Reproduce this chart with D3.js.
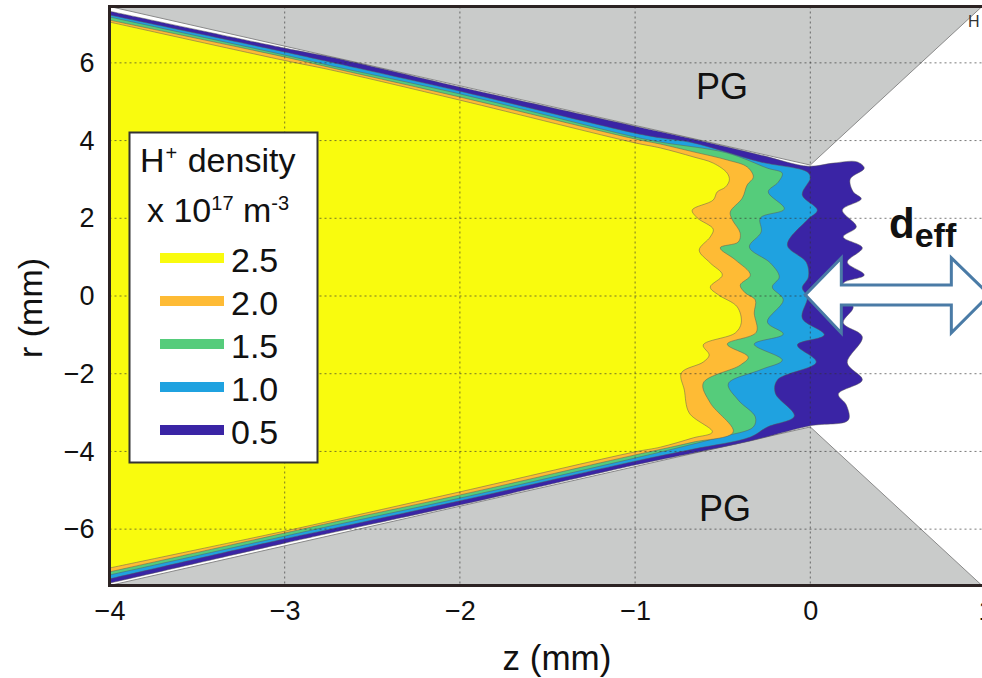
<!DOCTYPE html>
<html>
<head>
<meta charset="utf-8">
<script src="https://cdnjs.cloudflare.com/ajax/libs/d3/7.8.5/d3.min.js"></script>
<style>
  html, body { margin: 0; padding: 0; background: white; overflow: hidden; }
  text { font-family: "Liberation Sans", Arial, sans-serif; fill: #111; }
</style>
</head>
<body>
<div id="graph"></div>
<script>
// Contours are [z, r] in mm, going from the upper
// left wall round the front and back along the lower wall.
var contour05 = [[-4,7.33],[-3,6.38],[-2.74,6.15],[-2,5.38],[-1,4.37],[-.668,4.04],[-.285,3.63],[-.011,3.34],
  [.131,3.42],[.268,3.45],[.308,3.29],[.228,3.01],[.245,2.68],[.291,2.50],[.183,2.21],[.263,1.78],[.188,1.52],
  [.297,1.24],[.211,.87],[.308,.54],[.188,.33],[.183,.03],[.245,-.28],[.188,-.69],[.297,-1.05],[.211,-1.72],
  [.297,-2.16],[.160,-2.52],[.205,-2.80],[.217,-3.19],[0,-3.34],[-.342,-3.73],[-.668,-4.04],[-1,-4.35],
  [-2,-5.38],[-2.74,-6.10],[-3,-6.36],[-4,-7.39]];
var contour10 = [[-4,7.23],[-3,6.28],[-2.74,6.02],[-2,5.27],[-1,4.19],[-.856,4.07],[-.668,3.94],[-.285,3.45],
  [-.017,3.19],[0,3.04],[-.046,2.60],[.040,2.21],[-.017,1.96],[-.131,1.31],[-.023,.87],[-.011,.49],[-.046,.21],
  [-.017,-.03],[-.046,-.57],[.080,-1.00],[-.074,-1.26],[.034,-1.70],[-.188,-2.16],[-.200,-2.50],[-.091,-3.09],
  [-.245,-3.37],[-.342,-3.63],[-.668,-3.94],[-1,-4.25],[-2,-5.27],[-2.74,-6.00],[-3,-6.25],[-4,-7.28]];
var contour15 = [[-4,7.18],[-3,6.20],[-2.74,5.93],[-2,5.20],[-1,4.09],[-.856,3.96],[-.474,3.68],[-.245,3.29],
  [-.160,3.16],[-.183,2.93],[-.240,2.68],[-.148,2.24],[-.285,2.01],[-.280,1.65],[-.348,1.26],[-.228,.85],
  [-.177,.49],[-.217,.23],[-.154,-.10],[-.245,-.67],[-.154,-.98],[-.320,-1.24],[-.160,-1.65],[-.285,-1.90],
  [-.468,-2.26],[-.411,-2.68],[-.314,-3.11],[-.325,-3.37],[-.514,-3.63],[-.759,-3.91],[-1,-4.17],[-2,-5.20],
  [-2.74,-5.92],[-3,-6.18],[-4,-7.18]];
var contour20 = [[-4,7.10],[-3,6.15],[-2.74,5.88],[-2,5.12],[-1,4.04],[-.856,3.91],[-.668,3.71],[-.474,3.50],
  [-.360,3.32],[-.325,3.06],[-.360,2.86],[-.388,2.52],[-.457,2.16],[-.445,1.96],[-.400,1.62],[-.411,1.39],
  [-.514,1.24],[-.428,.93],[-.342,.54],[-.400,.28],[-.371,.08],[-.314,-.10],[-.320,-.44],[-.308,-.93],
  [-.474,-1.24],[-.354,-1.57],[-.400,-1.78],[-.611,-2.24],[-.571,-2.75],[-.440,-3.50],[-.668,-3.76],
  [-.816,-3.91],[-1,-4.09],[-2,-5.12],[-2.74,-5.84],[-3,-6.10],[-4,-7.10]];
var contour25 = [[-4,7.05],[-3,6.06],[-2.74,5.82],[-2,5.04],[-1,3.94],[-.856,3.81],[-.668,3.58],[-.554,3.42],
  [-.474,3.16],[-.462,2.98],[-.485,2.80],[-.531,2.68],[-.554,2.47],[-.674,2.21],[-.645,2.01],[-.554,1.72],
  [-.571,1.52],[-.634,1.18],[-.571,.85],[-.502,.54],[-.571,.23],[-.525,.03],[-.417,-.28],[-.394,-.69],
  [-.428,-.95],[-.611,-1.26],[-.577,-1.52],[-.611,-1.70],[-.736,-1.98],[-.719,-2.42],[-.691,-3.01],
  [-.559,-3.50],[-.668,-3.65],[-.856,-3.89],[-1,-4.01],[-2,-5.04],[-2.74,-5.79],[-3,-6.05],[-4,-7.00]];

var upperGrid = [[-4,7.45],[0,3.37],[.98,7.45]];
var lowerGrid = [[-4,-7.45],[0,-3.37],[.98,-7.45]];

var arrowOutline = [[-.029,.03],[.177,.98],[.177,.28],[.805,.28],[.805,.98],[1.022,.03],
  [.805,-.95],[.805,-.23],[.177,-.23],[.177,-.95]];

var legendLabels = ["2.5", "2.0", "1.5", "1.0", "0.5"];
var legendColors = ["#f9fb0e", "#febb35", "#55cc7b", "#1fa2e0", "#3a24a5"];
var contours = [contour05, contour10, contour15, contour20, contour25];
var contourColors = ["#3a24a5", "#1fa2e0", "#55cc7b", "#febb35", "#f9fb0e"];

var zTicks = [-4, -3, -2, -1, 0, 1];
var rTicks = [-6, -4, -2, 0, 2, 4, 6];

var width = 982, height = 678;

var x = d3.scaleLinear().domain([-4, 1]).range([109.5, 985.5]);
var y = d3.scaleLinear().domain([-7.45, 7.45]).range([585.5, 6.5]);

var svg = d3.select("#graph").append("svg")
    .attr("width", width)
    .attr("height", height)
    .style("display", "block");

var straight = d3.line()
    .x(function(d) { return x(d[0]); })
    .y(function(d) { return y(d[1]); });

var wavy = d3.line()
    .x(function(d) { return x(d[0]); })
    .y(function(d) { return y(d[1]); })
    .curve(d3.curveCatmullRom.alpha(0.5));

// The grey plasma grid
svg.selectAll(".pg")
    .data([upperGrid, lowerGrid])
    .enter()
    .append("path")
    .attr("class", "pg")
    .attr("d", function(d) { return straight(d) + "Z"; })
    .attr("fill", "#c9cbca")
    .attr("stroke", "#8a8a8a")
    .attr("stroke-width", 1);

// Filled contours, outermost first
svg.selectAll(".contour")
    .data(contours)
    .enter()
    .append("path")
    .attr("class", "contour")
    .attr("d", function(d) { return wavy(d) + "Z"; })
    .attr("fill", function(d, i) { return contourColors[i]; })
    .attr("stroke", "#5a5a55")
    .attr("stroke-opacity", 0.7)
    .attr("stroke-width", 0.7);

// Dotted grid sits over the fills
svg.selectAll(".gridV")
    .data(zTicks.slice(1))
    .enter()
    .append("line")
    .attr("class", "gridV")
    .attr("x1", function(d) { return x(d); })
    .attr("x2", function(d) { return x(d); })
    .attr("y1", y.range()[1])
    .attr("y2", y.range()[0]);

svg.selectAll(".gridH")
    .data(rTicks)
    .enter()
    .append("line")
    .attr("class", "gridH")
    .attr("x1", x.range()[0])
    .attr("x2", width)
    .attr("y1", function(d) { return y(d); })
    .attr("y2", function(d) { return y(d); });

svg.selectAll(".gridV, .gridH")
    .attr("stroke", "#333")
    .attr("stroke-opacity", 0.65)
    .attr("stroke-width", 1)
    .attr("stroke-dasharray", "2 3");

// Axes
var xAxis = d3.axisBottom(x).tickValues(zTicks).tickSize(0).tickPadding(15).tickFormat(d3.format("d"));
var yAxis = d3.axisLeft(y).tickValues(rTicks).tickSize(0).tickPadding(15).tickFormat(d3.format("d"));

svg.append("g")
    .attr("transform", "translate(0," + y.range()[0] + ")")
    .call(xAxis)
    .call(function(g) { g.select(".domain").remove(); })
    .selectAll("text")
    .style("font-size", "27px");

svg.append("g")
    .attr("transform", "translate(" + x.range()[0] + ",0)")
    .call(yAxis)
    .call(function(g) { g.select(".domain").remove(); })
    .selectAll("text")
    .style("font-size", "27px");

svg.selectAll(".frame")
    .data([
	[x.range()[0], y.range()[1], width, y.range()[1]],
	[x.range()[0], y.range()[0], width, y.range()[0]],
	[x.range()[0], y.range()[1], x.range()[0], y.range()[0]]])
    .enter()
    .append("line")
    .attr("class", "frame")
    .attr("x1", function(d) { return d[0]; })
    .attr("y1", function(d) { return d[1]; })
    .attr("x2", function(d) { return d[2]; })
    .attr("y2", function(d) { return d[3]; })
    .attr("stroke", "#2c2323")
    .attr("stroke-width", 3)
    .attr("stroke-linecap", "square");

svg.append("text")
    .attr("x", 557)
    .attr("y", 670)
    .attr("text-anchor", "middle")
    .style("font-size", "35px")
    .text("z (mm)");

svg.append("text")
    .attr("transform", "translate(42,308) rotate(-90)")
    .attr("text-anchor", "middle")
    .style("font-size", "34px")
    .text("r (mm)");

// Labels inside the plot
svg.append("text").attr("x", 722).attr("y", 99).attr("text-anchor", "middle")
    .style("font-size", "36px").text("PG");
svg.append("text").attr("x", 725).attr("y", 521).attr("text-anchor", "middle")
    .style("font-size", "36px").text("PG");
svg.append("text").attr("x", 968).attr("y", 27)
    .style("font-size", "16px").style("fill", "#333").text("H");

// Double arrow for the effective width
svg.append("path")
    .attr("d", straight(arrowOutline) + "Z")
    .attr("fill", "white")
    .attr("stroke", "#4a7ba6")
    .attr("stroke-width", 3);

var deff = svg.append("text")
    .attr("x", 889)
    .attr("y", 238)
    .style("font-weight", "bold")
    .style("font-size", "42px");
deff.append("tspan").text("d");
deff.append("tspan").attr("dy", 9).style("font-size", "34px").text("eff");

// Legend
var legend = svg.append("g");

legend.append("rect")
    .attr("x", 129.5)
    .attr("y", 132.5)
    .attr("width", 188)
    .attr("height", 330)
    .attr("fill", "white")
    .attr("stroke", "#333")
    .attr("stroke-width", 2);

var title = legend.append("text").attr("x", 140).attr("y", 172).style("font-size", "34px");
title.append("tspan").text("H");
title.append("tspan").attr("dy", -12).attr("dx", 1).style("font-size", "20px").text("+");
title.append("tspan").attr("dy", 12).attr("dx", 1).text(" density");

var units = legend.append("text").attr("x", 147).attr("y", 222).style("font-size", "34px");
units.append("tspan").text("x 10");
units.append("tspan").attr("dy", -12).style("font-size", "20px").text("17");
units.append("tspan").attr("dy", 12).text(" m");
units.append("tspan").attr("dy", -12).style("font-size", "20px").text("-3");

var legendY = d3.scalePoint().domain(legendLabels).range([258, 430]);

legend.selectAll(".swatch")
    .data(legendLabels)
    .enter()
    .append("rect")
    .attr("class", "swatch")
    .attr("x", 160)
    .attr("y", function(d) { return legendY(d) - 5; })
    .attr("width", 64)
    .attr("height", 10)
    .attr("fill", function(d, i) { return legendColors[i]; });

legend.selectAll(".legendLabel")
    .data(legendLabels)
    .enter()
    .append("text")
    .attr("class", "legendLabel")
    .attr("x", 231)
    .attr("y", function(d) { return legendY(d) + 14; })
    .style("font-size", "34px")
    .text(function(d) { return d; });
</script>
</body>
</html>
